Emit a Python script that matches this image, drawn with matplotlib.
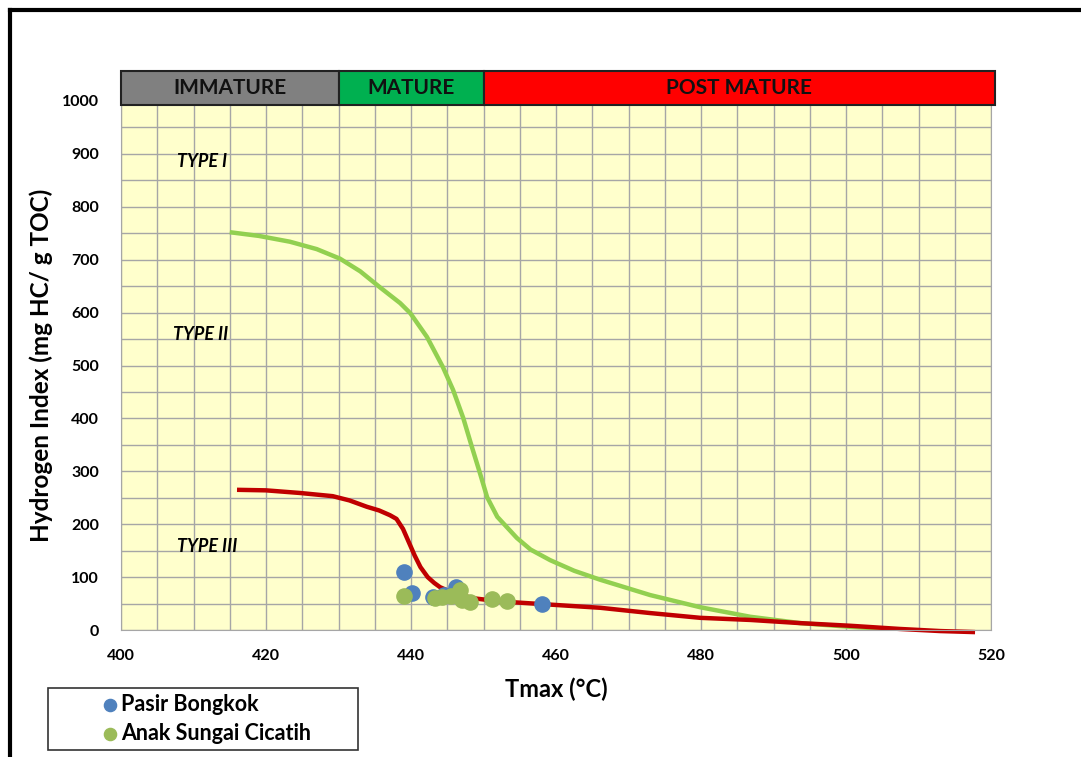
import matplotlib.pyplot as plt
from matplotlib.lines import Line2D
from matplotlib.patches import Rectangle

plt.rcParams['font.family'] = ['Lato', 'DejaVu Sans']
plt.rcParams['font.weight'] = 'bold'

# sample data
pasir_tmax = [439.0, 440.2, 443.0, 446.2, 458.1, 444.5]
pasir_hi = [110, 70, 63, 81, 49, 66]
anak_tmax = [439.0, 443.3, 444.3, 446.8, 447.0, 448.1, 451.2, 453.2, 445.5]
anak_hi = [64, 60, 62, 75, 57, 53, 59, 55, 65]

# type I/II boundary
green_t = [415.0, 419.0, 423.3, 427.0, 430.2, 433.0, 435.7, 438.5, 439.9, 442.2, 444.4,
           445.8, 447.2, 448.4, 449.5, 450.5, 451.9, 454.6, 456.5, 459.2, 462.5,
           466.1, 473.0, 479.9, 486.8, 493.7, 500.6, 508.1]
green_hi = [752, 745, 734, 720, 702, 678, 648, 618, 599, 554, 497,
            454, 401, 346, 297, 251, 214, 174, 152, 132, 112,
            95, 66, 43, 25, 13, 6, 0]

# type II/III boundary
red_t = [416.0, 420.0, 424.7, 429.2, 431.5, 433.9, 435.6, 437.1, 438.0, 438.9, 439.7,
         440.5, 441.3, 442.3, 443.2, 444.0, 445.8, 448.6, 452.3, 459.2, 466.1, 473.0,
         479.9, 486.8, 493.7, 500.6, 507.4, 513.0, 517.8]
red_hi = [265, 264, 259, 253, 245, 233, 226, 217, 210, 191, 166,
          141, 119, 100, 89, 81, 70, 60, 54, 48, 42, 32,
          23, 19, 13, 8, 2, -2, -4]

type_labels = ['TYPE I', 'TYPE II', 'TYPE III']
type_pos = [(407.7, 885), (407.2, 558), (407.7, 157)]

stages = ['IMMATURE', 'MATURE', 'POST MATURE']
stage_edges = [400, 430, 450, 520.5]
stage_colors = ['#808080', '#00b050', '#ff0000']

fig = plt.figure(figsize=(10.81, 7.57), dpi=100)
W, H = 1081, 757

ax = fig.add_axes([121 / W, 1 - 630 / H, 870 / W, 529 / H])
ax.set_facecolor('#ffffcc')
ax.set_xlim(400, 520)
ax.set_ylim(0, 1000)
ax.set_xticks(range(400, 521, 5), minor=True)
ax.set_yticks(range(0, 1001, 50), minor=True)
ax.set_xticks(range(400, 521, 20))
ax.set_yticks(range(0, 1001, 100))
ax.grid(True, which='both', color='#a6a6a6', lw=1.0)
ax.set_axisbelow(True)
ax.tick_params(which='both', length=0, labelsize=11.5)
ax.tick_params(axis='y', pad=16)
ax.tick_params(axis='x', pad=14)
for s in ax.spines.values():
    s.set_color('#a6a6a6')

ax.plot(green_t, green_hi, color='#92d050', lw=3.2, solid_capstyle='butt', solid_joinstyle='round')
ax.plot(red_t, red_hi, color='#c00000', lw=3.2, solid_capstyle='butt', solid_joinstyle='round',
        clip_on=False)

ax.scatter(pasir_tmax, pasir_hi, s=120, color='#4f81bd', zorder=3, label='Pasir Bongkok')
ax.scatter(anak_tmax, anak_hi, s=120, color='#9bbb59', zorder=4, label='Anak Sungai Cicatih')

for lab, (x, y) in zip(type_labels, type_pos):
    ax.text(x, y, lab, fontsize=13, fontweight='bold', style='italic', ha='left', va='center')

ax.set_xlabel('Tmax (°C)', fontsize=17, fontweight='bold', labelpad=10)
ax.set_ylabel('Hydrogen Index (mg HC/ g TOC)', fontsize=17.5, fontweight='bold', labelpad=6)

# maturity band above the plot
band = fig.add_axes([121 / W, 1 - 105 / H, 874 / W, 34 / H])
band.set_xlim(400, 520.5)
band.set_ylim(0, 1)
band.axis('off')
for i, name in enumerate(stages):
    x0, x1 = stage_edges[i], stage_edges[i + 1]
    band.add_patch(Rectangle((x0, 0), x1 - x0, 1, facecolor=stage_colors[i],
                             edgecolor='#222222', lw=1.5, clip_on=False))
    band.text((x0 + x1) / 2, 0.5, name, ha='center', va='center',
              fontsize=15, fontweight='bold', color='#111111')

leg = fig.legend(loc='lower left', bbox_to_anchor=(48 / W, 1 - 750 / H, 310 / W, 63 / H),
                 mode='expand', borderaxespad=0, fontsize=15.5, frameon=True, fancybox=False,
                 handlelength=5.2, handletextpad=-2.1, borderpad=0.3, labelspacing=0.35,
                 markerscale=0.8)
leg.get_frame().set_edgecolor('black')
leg.get_frame().set_linewidth(1.2)

# outer frame
fig.add_artist(Line2D([10 / W, 10 / W], [0, 1 - 10 / H], color='black', lw=3))
fig.add_artist(Line2D([10 / W, 1], [1 - 10 / H, 1 - 10 / H], color='black', lw=3))

fig.savefig('out.png', dpi=100)
